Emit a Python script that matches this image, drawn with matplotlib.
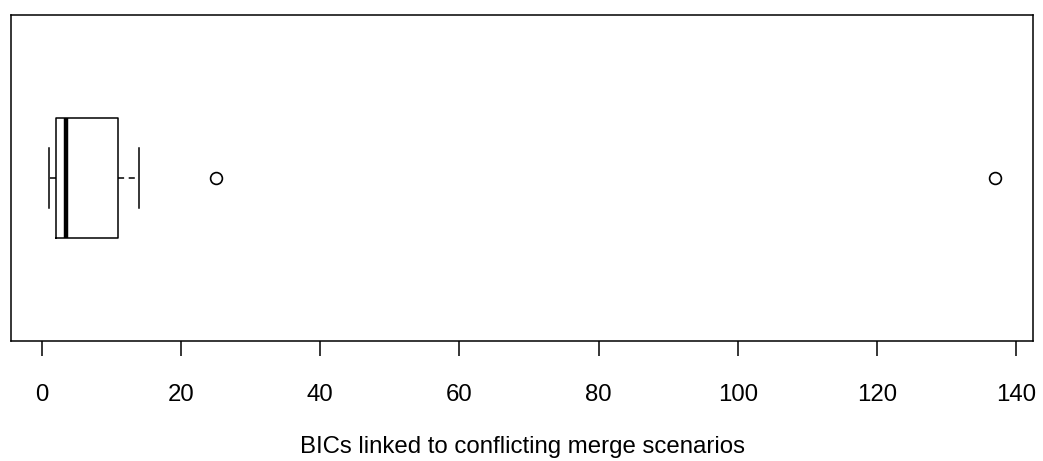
import numpy as np
import matplotlib
matplotlib.use("Agg")
import matplotlib.pyplot as plt

matplotlib.rc('font', family='Liberation Sans', size=17.3)

# five-number summary
whisk_lo = 1
q1 = 2
median = 3.5
q3 = 11
whisk_hi = 14
outliers = [25, 137]
xticks = [0, 20, 40, 60, 80, 100, 120, 140]
xlabel = "BICs linked to conflicting merge scenarios"

stats = [{'whislo': whisk_lo, 'q1': q1, 'med': median, 'q3': q3,
          'whishi': whisk_hi, 'fliers': outliers}]

fig = plt.figure(figsize=(10.43, 4.61), dpi=100)
ax = fig.add_axes([11/1043, 1 - 341/461, (1033-11)/1043, (341-15)/461])

ax.bxp(stats, positions=[0.5], widths=0.371, vert=False, patch_artist=False,
       boxprops=dict(color='black', linewidth=1.1),
       medianprops=dict(color='black', linewidth=3.2, solid_capstyle='butt'),
       whiskerprops=dict(color='black', linewidth=1.1, linestyle=(0, (4, 3))),
       capprops=dict(color='black', linewidth=1.1),
       capwidths=0.185,
       flierprops=dict(marker='o', markerfacecolor='none', markeredgecolor='black',
                       markersize=8.5, markeredgewidth=1.2))

ax.set_ylim(0, 1)
ax.set_xlim(-4.44, 142.44)
ax.set_yticks([])
ax.set_xticks(xticks)
ax.set_xticklabels([str(t) for t in xticks])
ax.tick_params(axis='x', length=10.8, width=1.1, pad=20, labelsize=17.3)
for sp in ax.spines.values():
    sp.set_linewidth(1.1)
ax.set_xlabel(xlabel, fontsize=17.3, labelpad=22)

plt.savefig("out.png", dpi=100)
